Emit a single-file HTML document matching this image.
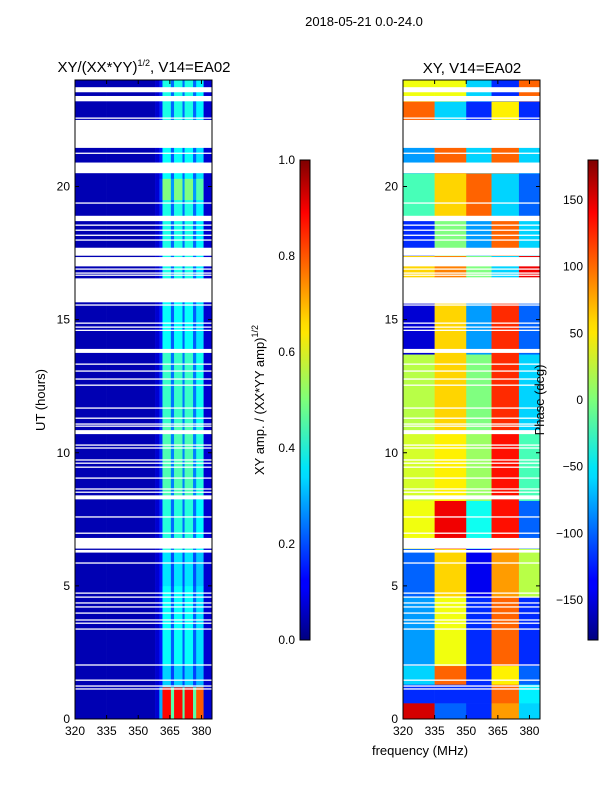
<!DOCTYPE html>
<html><head><meta charset="utf-8">
<style>
body{margin:0;background:#fff;width:600px;height:800px;overflow:hidden;font-family:"Liberation Sans","DejaVu Sans",sans-serif;}
svg text{font-family:"Liberation Sans","DejaVu Sans",sans-serif;}
</style></head>
<body>
<svg id="fig" width="600" height="800" xmlns="http://www.w3.org/2000/svg">
<defs>
<linearGradient id="jet" x1="0" y1="1" x2="0" y2="0">
<stop offset="0" stop-color="#00007f"/><stop offset="0.11" stop-color="#0000ff"/>
<stop offset="0.125" stop-color="#0000ff"/><stop offset="0.34" stop-color="#00dbff"/>
<stop offset="0.36" stop-color="#00e5f7"/><stop offset="0.5" stop-color="#7dff7a"/>
<stop offset="0.64" stop-color="#ffe600"/><stop offset="0.66" stop-color="#ffdb00"/>
<stop offset="0.89" stop-color="#ff0000"/><stop offset="1" stop-color="#7f0000"/>
</linearGradient>
</defs>
<text x="364" y="26" font-size="13" text-anchor="middle">2018-05-21 0.0-24.0</text>
<text x="144" y="72" font-size="15" text-anchor="middle">XY/(XX*YY)<tspan font-size="9" dy="-6">1/2</tspan><tspan dy="6">, V14=EA02</tspan></text>
<text x="472" y="73" font-size="15" text-anchor="middle">XY, V14=EA02</text>
<g id="left"></g>
<g id="right"></g>
<g id="axes"></g>
<text transform="translate(45,400) rotate(-90)" font-size="13" text-anchor="middle">UT (hours)</text>
<text x="420" y="755" font-size="13" text-anchor="middle">frequency (MHz)</text>
<rect x="300" y="160" width="10" height="480" fill="url(#jet)" stroke="#000" stroke-width="1"/>
<rect x="588" y="160" width="10" height="480" fill="url(#jet)" stroke="#000" stroke-width="1"/>
<text transform="translate(264,400) rotate(-90)" font-size="13" text-anchor="middle">XY amp. / (XX*YY amp)<tspan font-size="9" dy="-6">1/2</tspan></text>
<text transform="translate(544,400) rotate(-90)" font-size="13" text-anchor="middle">Phase (deg)</text>
</svg>
<script>
const NS='http://www.w3.org/2000/svg';
// --- data ---
const hoursMax=24, fMin=320, fMax=385;
const freqEdges=[320,335,350,358,360,361.5,365.5,367,371,372,376,377.5,381,385];
const ampProfile=[0.05,0.05,0.05,0.08,0.3,1,0.5,1,0.5,1,0.5,0.9,0.08];
const ampSegStart=[0,1.2,2.0,5.0,6.3,8.3,11.0,13.8,16.5,19.5,20.3,21.0,22.5];
const ampSegEnd  =[1.2,2.0,5.0,6.3,8.3,11.0,13.8,16.5,19.5,20.3,21.0,22.5,24];
const ampSegLevel=[0.82,0.28,0.33,0.3,0.36,0.4,0.38,0.33,0.35,0.45,0.33,0.33,0.35];
const phaseZones=[320,335,350,362,375,385];
const phSegStart=[0,0.6,1.3,2.0,4.6,6.4,8.2,10.8,13.7,16.6,17.4,18.9,20.5,22.5,23.2];
const phSegEnd  =[0.6,1.3,2.0,4.6,6.4,8.2,10.8,13.7,15.6,17.4,18.9,20.5,22.5,23.2,24];
const phSegVals=[[150,-100,-120,80,-60],[-120,-120,-120,100,-50],[-60,100,-120,50,-100],
 [-80,40,-120,100,-120],[-100,60,-140,80,20],[40,140,-40,130,-100],[30,50,10,130,-20],
 [20,60,0,120,-60],[-150,60,-80,120,-100],[60,90,0,-60,140],[-120,0,-80,100,-60],
 [-20,60,100,-60,-100],[-80,100,-60,100,-60],[100,-60,-120,50,-120],[40,40,-60,-120,100]];
const gapStart=[23.54,23.2,21.45,20.5,18.7,17.4,17.0,15.65,13.75,10.7,8.25,6.4,6.25];
const gapEnd  =[23.73,23.4,22.5,20.9,18.9,17.7,17.35,16.55,13.9,10.85,8.4,6.8,6.35];
const thinLines=[22.57,21.25,19.38,18.55,18.36,18.17,17.99,16.9,16.75,16.67,15.55,14.87,14.72,14.6,13.33,13.07,12.77,12.54,11.68,11.3,11.08,11.0,10.29,10.18,9.73,9.61,9.46,9.05,8.64,8.52,7.59,6.98,5.86,4.73,4.58,4.36,4.21,3.98,3.72,3.6,3.38,2.03,1.46,1.24,1.13];
const xTicks=[320,335,350,365,380];
const yTicks=[0,5,10,15,20];
const cb1Ticks=[0,0.2,0.4,0.6,0.8,1.0];
const cb2Ticks=[-150,-100,-50,0,50,100,150];
// --- helpers ---
function jet(t){t=Math.max(0,Math.min(1,t));const c=v=>Math.round(255*Math.max(0,Math.min(1,v)));
 return `rgb(${c(1.5-Math.abs(4*t-3))},${c(1.5-Math.abs(4*t-2))},${c(1.5-Math.abs(4*t-1))})`;}
const panels=[{id:'left',x0:75},{id:'right',x0:403}];
const W=137,Y0=80,Y1=719;
const xs=(p,f)=>p.x0+(f-fMin)*W/(fMax-fMin);
const ys=h=>Y1-h*(Y1-Y0)/hoursMax;
function rect(g,x,y,w,h,fill,name){const r=document.createElementNS(NS,'rect');
 r.setAttribute('x',x);r.setAttribute('y',y);r.setAttribute('width',w);r.setAttribute('height',h);r.setAttribute('fill',fill);
 
 
 g.appendChild(r);return r;}
function txt(g,x,y,s,anchor,name){const t=document.createElementNS(NS,'text');
 t.setAttribute('x',x);t.setAttribute('y',y);t.setAttribute('font-size','12');t.setAttribute('text-anchor',anchor);t.textContent=s;
 
 
 g.appendChild(t);}
// left amplitude
const L=document.getElementById('left'),pl=panels[0];
rect(L,pl.x0,Y0,W,Y1-Y0,'#fff','left-background');
for(let s=0;s<ampSegStart.length;s++){
 for(let c=0;c<ampProfile.length;c++){
  const v=ampProfile[c]<0.1?ampProfile[c]:0.05+ampSegLevel[s]*ampProfile[c];
  const x=xs(pl,freqEdges[c]),x2=xs(pl,freqEdges[c+1]);
  rect(L,x,ys(ampSegEnd[s]),x2-x+0.3,ys(ampSegStart[s])-ys(ampSegEnd[s])+0.3,jet(v),'amp-cell');
 }}
// right phase
const R=document.getElementById('right'),pr=panels[1];
for(let s=0;s<phSegStart.length;s++){
 for(let c=0;c<phaseZones.length-1;c++){
  const x=xs(pr,phaseZones[c]),x2=xs(pr,phaseZones[c+1]);
  rect(R,x,ys(phSegEnd[s]),x2-x+0.3,ys(phSegStart[s])-ys(phSegEnd[s])+0.3,jet((phSegVals[s][c]+180)/360),'phase-cell');
 }}
// gaps & flagged lines
panels.forEach(p=>{const g=document.getElementById(p.id);
 for(let i=0;i<gapStart.length;i++)rect(g,p.x0,ys(gapEnd[i]),W,ys(gapStart[i])-ys(gapEnd[i]),'#fff','data-gap');
 thinLines.forEach(h=>rect(g,p.x0,ys(h)-0.6,W,1.3,'#fff','flagged-row'));
});
// axes
const A=document.getElementById('axes');
panels.forEach(p=>{
 const f=rect(A,p.x0,Y0,W,Y1-Y0,'none','plot-frame');f.setAttribute('stroke','#000');
 xTicks.forEach(v=>{const x=xs(p,v);rect(A,x-0.5,Y1-4,1,4,'#000','x-tick');rect(A,x-0.5,Y0,1,4,'#000','x-tick');
  txt(A,x,735,String(v),'middle','x-tick-label');});
 yTicks.forEach(v=>{const y=ys(v);rect(A,p.x0,y-0.5,4,1,'#000','y-tick');rect(A,p.x0+W-4,y-0.5,4,1,'#000','y-tick');
  txt(A,p.x0-5,y+4,String(v),'end','y-tick-label');});
});
cb1Ticks.forEach(v=>{const y=640-v*480;rect(A,300,y-0.5,10,1,'#000','cb-tick');txt(A,295,y+4,v.toFixed(1),'end','amp-colorbar-tick-label');});
cb2Ticks.forEach(v=>{const y=640-(v+180)*480/360;rect(A,588,y-0.5,10,1,'#000','cb-tick');txt(A,583,y+4,v<0?'\u2212'+(-v):String(v),'end','phase-colorbar-tick-label');});
</script>
</body></html>
